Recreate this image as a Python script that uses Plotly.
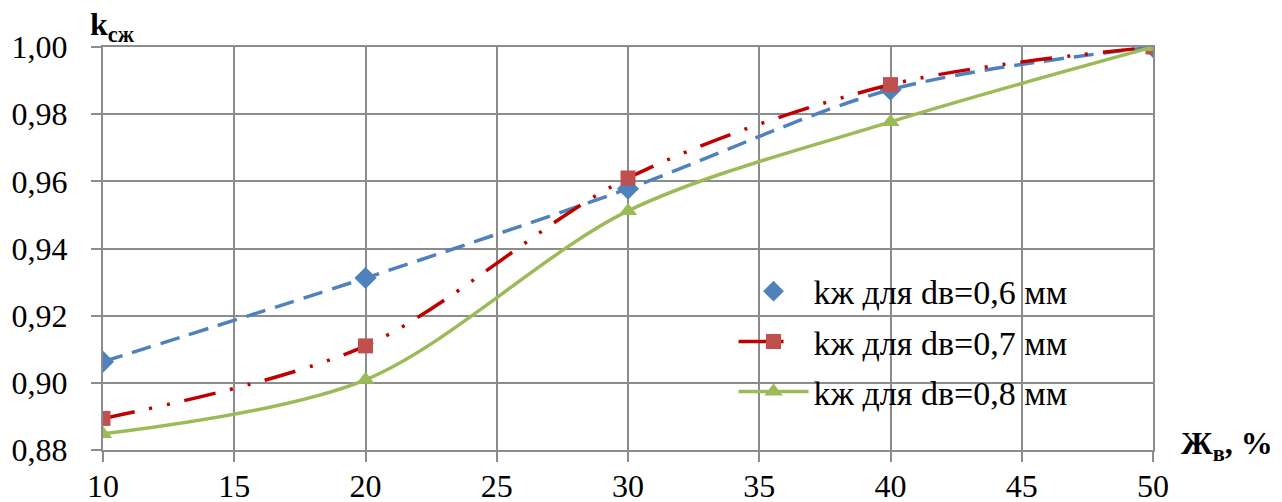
import plotly.graph_objects as go

x_vals = [10, 20, 30, 40, 50]
k_06 = [0.9063, 0.9312, 0.9578, 0.9873, 1.000]
k_07 = [0.8894, 0.9110, 0.9610, 0.9888, 1.000]
k_08 = [0.8848, 0.9009, 0.9512, 0.9777, 1.000]
names = ["kж для dв=0,6 мм", "kж для dв=0,7 мм", "kж для dв=0,8 мм"]
x_ticks = [10, 15, 20, 25, 30, 35, 40, 45, 50]
y_ticks = [0.88, 0.90, 0.92, 0.94, 0.96, 0.98, 1.00]

FONT = "Liberation Serif"
GRID = "#8c8c8c"
BLUE_L, BLUE_M = "#4f81bd", "#4f81bd"
RED_L, RED_M = "#c00000", "#c0504d"
GREEN_L, GREEN_M = "#9bbb59", "#9bbb59"

fig = go.Figure()

# data traces
fig.add_trace(go.Scatter(
    x=x_vals, y=k_06, mode="lines+markers", showlegend=False,
    line=dict(color=BLUE_L, width=3.5, dash="20px,10px", shape="spline", smoothing=0.9),
    marker=dict(symbol="diamond", size=17, color=BLUE_M)))
fig.add_trace(go.Scatter(
    x=x_vals, y=k_07, mode="lines+markers", showlegend=False,
    line=dict(color=RED_L, width=3.5, dash="32px,15px,3px,15px,3px,15px", shape="spline", smoothing=0.9),
    marker=dict(symbol="square", size=15, color=RED_M)))
fig.add_trace(go.Scatter(
    x=x_vals, y=k_08, mode="lines+markers", showlegend=False,
    line=dict(color=GREEN_L, width=3.5, shape="spline", smoothing=0.9),
    marker=dict(symbol="triangle-up", size=16, color=GREEN_M)))

# legend entries
fig.add_trace(go.Scatter(x=[None], y=[None], mode="markers", name=names[0], legendgroup="a",
                         marker=dict(symbol="diamond", size=17, color=BLUE_M)))
fig.add_trace(go.Scatter(x=[None], y=[None], mode="lines+markers", name=names[1], legendgroup="b",
                         line=dict(color=RED_L, width=3.5, dash="30px,12px,3px,30px"),
                         marker=dict(symbol="square", size=15, color=RED_M)))
fig.add_trace(go.Scatter(x=[None], y=[None], mode="lines+markers", name=names[2], legendgroup="c",
                         line=dict(color=GREEN_L, width=3.5),
                         marker=dict(symbol="triangle-up", size=16, color=GREEN_M)))

# white legend background box
fig.add_shape(type="rect", xref="paper", yref="paper", x0=0.5476, x1=0.977, y0=0.082, y1=0.454,
              fillcolor="white", line=dict(width=0), layer="between")

fig.add_annotation(xref="paper", yref="paper", x=-0.014, y=0.995, xanchor="left", yanchor="bottom",
                   text="<b>k<sub>сж</sub></b>", showarrow=False, font=dict(family=FONT, size=32, color="black"))
fig.add_annotation(xref="paper", yref="paper", x=1.025, y=0.01, xanchor="left", yanchor="middle",
                   text="<b>Ж<sub>в</sub>, %</b>", showarrow=False, font=dict(family=FONT, size=32, color="black"))

# page body has an 8px margin; figure sized/offset to compensate
fig.update_layout(
    width=1274, height=494,
    margin=dict(l=95, r=129, t=39, b=52, autoexpand=False),
    paper_bgcolor="white", plot_bgcolor="white",
    separators=", ",
    font=dict(family=FONT, size=32, color="black"),
    legend=dict(x=0.6005, y=0.465, xanchor="left", yanchor="top", bgcolor="rgba(0,0,0,0)",
                font=dict(family=FONT, size=34, color="black"),
                traceorder="grouped", tracegroupgap=3, itemwidth=70),
    xaxis=dict(range=[10, 50], tickvals=x_ticks, showgrid=True, gridcolor=GRID, gridwidth=2,
               showline=True, linecolor=GRID, linewidth=2, mirror=True, automargin=False,
               ticks="outside", ticklen=10, tickcolor=GRID, tickwidth=2, zeroline=False,
               tickfont=dict(family=FONT, size=32), ticklabelstandoff=-3),
    yaxis=dict(range=[0.88, 1.00], tickvals=y_ticks, tickformat=".2f", showgrid=True, gridcolor=GRID,
               gridwidth=2, showline=True, linecolor=GRID, linewidth=2, mirror=True, automargin=False,
               ticks="outside", ticklen=10, tickcolor=GRID, tickwidth=2, zeroline=False,
               tickfont=dict(family=FONT, size=32), ticklabelstandoff=17),
)

fig.write_html("out.html")
